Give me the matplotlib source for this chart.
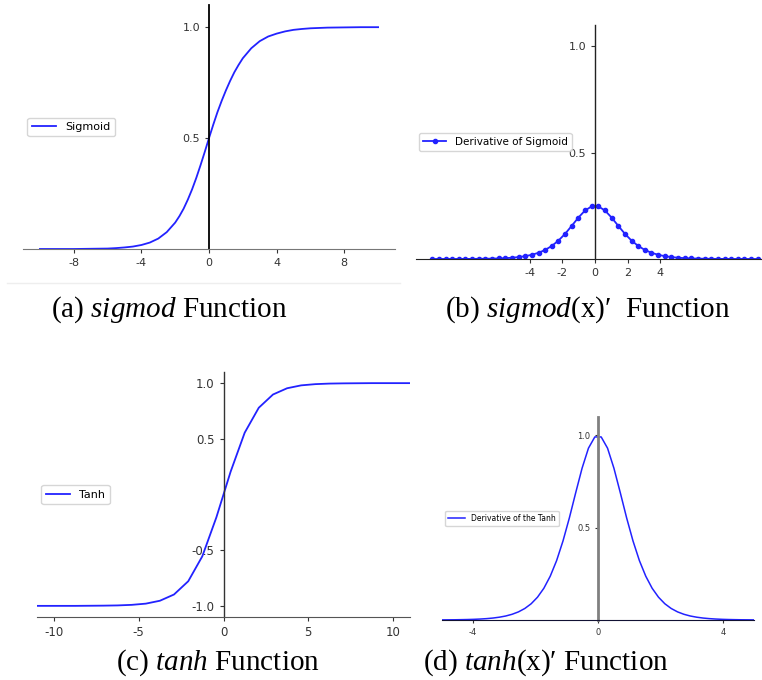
import numpy as np
import matplotlib.pyplot as plt
from matplotlib.lines import Line2D

plt.rcParams['mathtext.fontset'] = 'custom'
plt.rcParams['mathtext.rm'] = 'Liberation Serif'
plt.rcParams['mathtext.it'] = 'Liberation Serif:italic'
plt.rcParams['axes.unicode_minus'] = False

# (a) sigmoid
sig_x = [-10, -9, -8, -7, -6, -5.5, -5, -4.5, -4, -3.5, -3, -2.5, -2, -1.75, -1.5, -1.25, -1, -0.75, -0.5, -0.25,
         0, 0.25, 0.5, 0.75, 1, 1.25, 1.5, 1.75, 2, 2.5, 3, 3.5, 4, 4.5, 5, 5.5, 6, 7, 8, 9, 10]
sig_y = [0.000, 0.000, 0.000, 0.001, 0.002, 0.004, 0.007, 0.011, 0.018, 0.029, 0.047, 0.076, 0.119, 0.148,
         0.182, 0.223, 0.269, 0.321, 0.378, 0.438, 0.500, 0.560, 0.617, 0.668, 0.715, 0.758, 0.797, 0.830,
         0.860, 0.905, 0.937, 0.958, 0.971, 0.981, 0.988, 0.992, 0.995, 0.998, 0.999, 1.000, 1.000]

# (b) derivative of sigmoid, 50 dots
dsig_x = [-10.000, -9.592, -9.184, -8.776, -8.367, -7.959, -7.551, -7.143, -6.735, -6.327, -5.918, -5.510,
          -5.102, -4.694, -4.286, -3.878, -3.469, -3.061, -2.653, -2.245, -1.837, -1.429, -1.020, -0.612,
          -0.204, 0.204, 0.612, 1.020, 1.429, 1.837, 2.245, 2.653, 3.061, 3.469, 3.878, 4.286, 4.694,
          5.102, 5.510, 5.918, 6.327, 6.735, 7.143, 7.551, 7.959, 8.367, 8.776, 9.184, 9.592, 10.000]
dsig_y = [0.0000, 0.0001, 0.0001, 0.0002, 0.0002, 0.0003, 0.0005, 0.0008, 0.0012, 0.0018, 0.0027, 0.0040,
          0.0060, 0.0090, 0.0134, 0.0199, 0.0293, 0.0427, 0.0615, 0.0866, 0.1185, 0.1559, 0.1948, 0.2280,
          0.2474, 0.2474, 0.2280, 0.1948, 0.1559, 0.1185, 0.0866, 0.0615, 0.0427, 0.0293, 0.0199, 0.0134,
          0.0090, 0.0060, 0.0040, 0.0027, 0.0018, 0.0012, 0.0008, 0.0005, 0.0003, 0.0002, 0.0002, 0.0001,
          0.0001, 0.0000]

# (c) tanh, coarse polyline
tanh_x = [-11.25, -10.42, -9.58, -8.75, -7.92, -7.08, -6.25, -5.42, -4.58, -3.75, -2.92, -2.08, -1.25,
          -0.42, 0.42, 1.25, 2.08, 2.92, 3.75, 4.58, 5.42, 6.25, 7.08, 7.92, 8.75, 9.58, 10.42, 11.25]
tanh_y = [-1.000, -1.000, -1.000, -1.000, -0.999, -0.998, -0.996, -0.991, -0.980, -0.954, -0.898, -0.779,
          -0.555, -0.205, 0.205, 0.555, 0.779, 0.898, 0.954, 0.980, 0.991, 0.996, 0.998, 0.999, 1.000,
          1.000, 1.000, 1.000]

# (d) derivative of tanh
dtanh_x = [-5.000, -4.796, -4.592, -4.388, -4.184, -3.980, -3.776, -3.571, -3.367, -3.163, -2.959, -2.755,
           -2.551, -2.347, -2.143, -1.939, -1.735, -1.531, -1.327, -1.122, -0.918, -0.714, -0.510, -0.306,
           -0.102, 0.102, 0.306, 0.510, 0.714, 0.918, 1.122, 1.327, 1.531, 1.735, 1.939, 2.143, 2.347,
           2.551, 2.755, 2.959, 3.163, 3.367, 3.571, 3.776, 3.980, 4.184, 4.388, 4.592, 4.796, 5.000]
dtanh_y = [0.0006, 0.0009, 0.0012, 0.0018, 0.0025, 0.0036, 0.0052, 0.0074, 0.0106, 0.0152, 0.0216, 0.0309,
           0.0439, 0.0623, 0.0879, 0.1236, 0.1721, 0.2373, 0.3217, 0.4283, 0.5531, 0.6901, 0.8227, 0.9310,
           0.9920, 0.9920, 0.9310, 0.8227, 0.6901, 0.5531, 0.4283, 0.3217, 0.2373, 0.1721, 0.1236, 0.0879,
           0.0623, 0.0439, 0.0309, 0.0216, 0.0152, 0.0106, 0.0074, 0.0052, 0.0036, 0.0025, 0.0018, 0.0012,
           0.0009, 0.0006]

captions = [r"(a) $sigmod$ Function", r"(b) $sigmod$(x)′  Function",
            r"(c) $tanh$ Function", r"(d) $tanh$(x)′ Function"]

W, H = 762, 680
fig = plt.figure(figsize=(W / 100, H / 100), dpi=100)


def box(l, t, r, b):
    # pixel box -> figure fraction
    return [l / W, 1 - b / H, (r - l) / W, (b - t) / H]


def style(ax, fs, lcol, bcol, lw_left=1.0):
    ax.spines['top'].set_visible(False)
    ax.spines['right'].set_visible(False)
    ax.spines['left'].set_position('zero')
    ax.spines['left'].set_color(lcol)
    ax.spines['left'].set_linewidth(lw_left)
    ax.spines['bottom'].set_color(bcol)
    ax.tick_params(labelsize=fs, colors='#333333', length=3, width=0.8)
    ax.patch.set_alpha(0)


blue = '#2222ff'

# (a)
ax = fig.add_axes(box(23, 5, 395, 249))
ax.plot(sig_x, sig_y, color=blue, lw=1.3, label='Sigmoid')
ax.set_xlim(-11, 11)
ax.set_ylim(0, 1.1)
ax.set_xticks([-8, -4, 0, 4, 8])
ax.set_yticks([0.5, 1.0])
style(ax, 8, 'black', '#777777', 1.3)
ax.legend(loc='center left', fontsize=8, handlelength=2.2, borderaxespad=0.4)

# (b)
ax = fig.add_axes(box(416, 25, 774, 259))
ax.plot(dsig_x, dsig_y, color=blue, lw=1.3, marker='.', ms=6, label='Derivative of Sigmoid')
ax.set_xlim(-11, 11)
ax.set_ylim(0, 1.1)
ax.set_xticks([-4, -2, 0, 2, 4])
ax.set_yticks([0.5, 1.0])
style(ax, 8, '#222222', '#222222')
ax.legend(loc='center left', fontsize=7.5, handlelength=2.2, borderaxespad=0.3)

# (c)
ax = fig.add_axes(box(37, 372, 410, 617))
ax.plot(tanh_x, tanh_y, color=blue, lw=1.3, label='Tanh')
ax.set_xlim(-11, 11)
ax.set_ylim(-1.1, 1.1)
ax.set_xticks([-10, -5, 0, 5, 10])
ax.set_yticks([-1.0, -0.5, 0.5, 1.0])
style(ax, 8.5, '#333333', '#555555')
ax.legend(loc='center left', fontsize=8, handlelength=2.2, borderaxespad=0.4)

# (d)
ax = fig.add_axes(box(442, 417, 754, 620))
ax.plot(dtanh_x, dtanh_y, color=blue, lw=1.1, label='Derivative of the Tanh')
ax.set_xlim(-5, 5)
ax.set_ylim(0, 1.1)
ax.set_xticks([-4, 0, 4])
ax.set_yticks([0.5, 1.0])
style(ax, 6, '#808080', '#111133', 2.0)
ax.tick_params(length=2)
ax.legend(loc='center left', fontsize=5.5, handlelength=2.2, borderaxespad=0.4)

# faint separator under (a)
fig.add_artist(Line2D([7 / W, 400 / W], [1 - 283 / H, 1 - 283 / H], color='#eeeeee', lw=1))

# captions
cap_pos = [(169, 310), (588, 310), (218, 663), (546, 663)]
for (cx, cy), txt in zip(cap_pos, captions):
    fig.text(cx / W, 1 - cy / H, txt, ha='center', va='center', fontsize=21,
             family='Liberation Serif', color='black')

fig.savefig('out.png', dpi=100)
